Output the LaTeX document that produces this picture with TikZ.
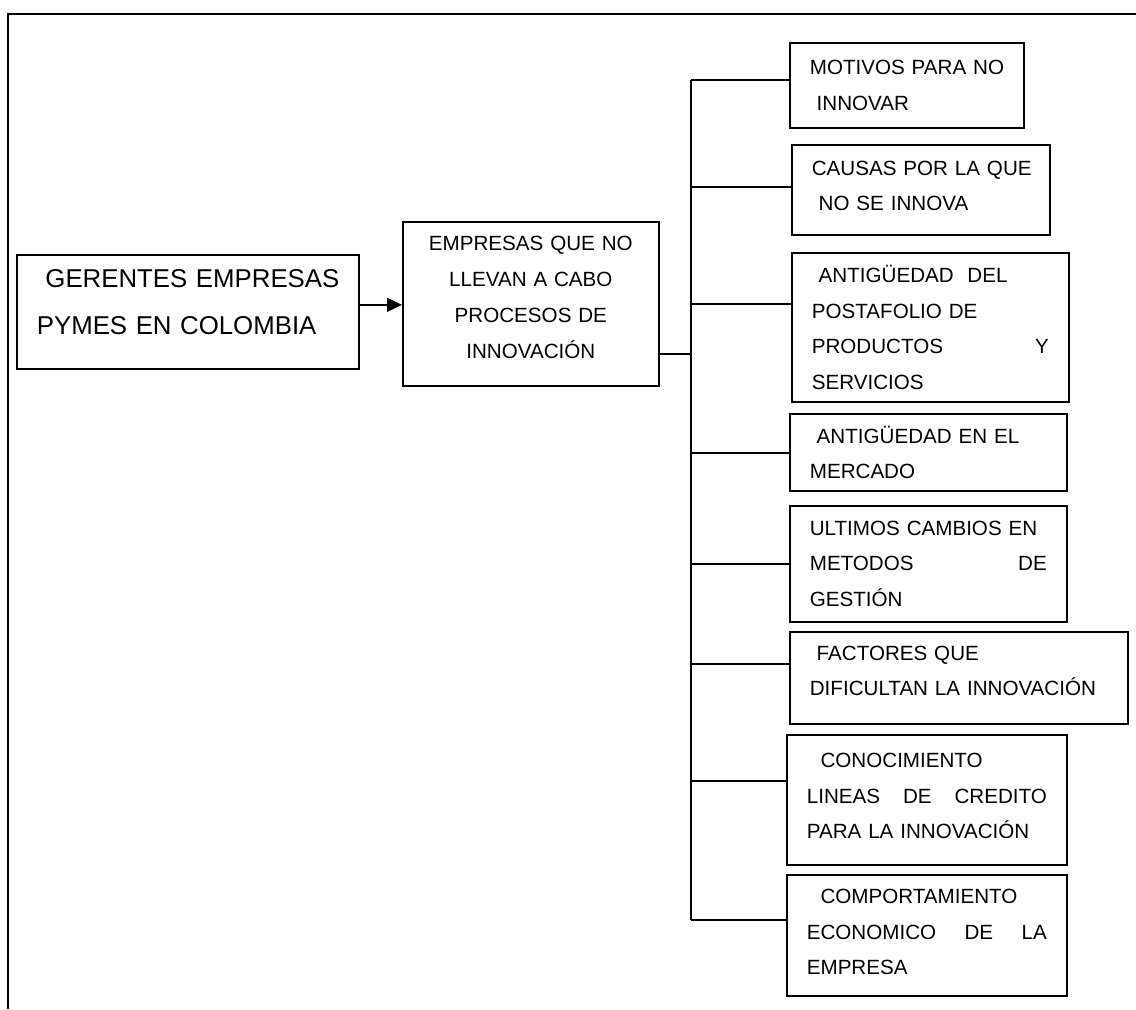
\documentclass[tikz,border=0pt]{standalone}
\usepackage{fontspec}
\setmainfont{Liberation Sans}
\usetikzlibrary{arrows.meta}
\newcommand{\dn}[1]{\rule[-#1]{0pt}{0pt}}
\newcommand{\gap}{\hspace{\fill}}

\begin{document}
\begin{tikzpicture}[
	x=0.5pt, y=-0.5pt, line width=0.85pt,
	framed/.style={draw, anchor=north west, inner xsep=10pt, inner ysep=0pt, align=left, font=\fontsize{10.3}{17.75}\selectfont},
	big/.style={framed, font=\fontsize{12.9}{23.5}\selectfont},
	centred/.style={framed, align=center, font=\fontsize{10.3}{18}\selectfont},
	tip/.style={-{Triangle[length=7.5pt,width=7pt]}}
]
	\useasboundingbox (0,0) rectangle (1136,1009);

	% outer frame
	\draw (1136,14) -- (8,14) -- (8,1009);

	\node[big, minimum width=171pt, minimum height=57pt, text width=151pt] (gerentes) at (16,254)
		{\mbox{~GERENTES EMPRESAS}\\PYMES EN COLOMBIA\dn{9.5pt}};
	\node[centred, minimum width=128pt, minimum height=82pt, text width=108pt] (empresas) at (402,221)
		{EMPRESAS QUE NO\\LLEVAN A CABO\\PROCESOS DE\\INNOVACIÓN\dn{6.5pt}};
	\draw[tip, line width=0.7pt] ([yshift=3.5pt]gerentes.east) -- ([yshift=3.5pt]gerentes.east -| empresas.west);

	\node[framed, minimum width=117pt, minimum height=42.5pt, text width=97pt] (motivos) at (789,42)
		{MOTIVOS~PARA~NO\\~INNOVAR};
	\node[framed, minimum width=129pt, minimum height=45pt, text width=109pt] (causas) at (791,144)
		{CAUSAS~POR~LA~QUE\\~NO SE INNOVA\dn{4pt}};
	\node[framed, minimum width=138.5pt, minimum height=74.5pt, text width=118.5pt] (portafolio) at (791,252)
		{~ANTIGÜEDAD~~DEL\\POSTAFOLIO DE\\PRODUCTOS\gap Y\\SERVICIOS};
	\node[framed, minimum width=138.5pt, minimum height=38.5pt, text width=118.5pt] (mercado) at (789,413)
		{~ANTIGÜEDAD EN EL\\MERCADO};
	\node[framed, minimum width=138.5pt, minimum height=58pt, text width=118.5pt] (gestion) at (789,505)
		{ULTIMOS CAMBIOS EN\\METODOS\gap DE\\GESTIÓN};
	\node[framed, minimum width=169pt, minimum height=46pt, text width=149pt] (factores) at (789,631)
		{~FACTORES QUE\\DIFICULTAN LA INNOVACIÓN\dn{7pt}};
	\node[framed, minimum width=140pt, minimum height=65pt, text width=120pt] (credito) at (786,734)
		{~~CONOCIMIENTO\\LINEAS\gap DE\gap CREDITO\\PARA~LA~INNOVACIÓN\dn{4pt}};
	\node[framed, minimum width=140pt, minimum height=60.5pt, text width=120pt] (economico) at (786,874)
		{~~COMPORTAMIENTO\\ECONOMICO\gap DE\gap LA\\EMPRESA\dn{3.5pt}};

	% trunk and branches
	\coordinate (hub) at (691,354);
	\coordinate (b1) at (691,80);
	\coordinate (b2) at (691,187);
	\coordinate (b3) at (691,304);
	\coordinate (b4) at (691,453);
	\coordinate (b5) at (691,564);
	\coordinate (b6) at (691,664);
	\coordinate (b7) at (691,781);
	\coordinate (b8) at (691,920);
	\draw (hub -| empresas.east) -- (hub);
	\draw (b1) -- (b8);
	\draw (b1) -- (b1 -| motivos.west);
	\draw (b2) -- (b2 -| causas.west);
	\draw (b3) -- (b3 -| portafolio.west);
	\draw (b4) -- (b4 -| mercado.west);
	\draw (b5) -- (b5 -| gestion.west);
	\draw (b6) -- (b6 -| factores.west);
	\draw (b7) -- (b7 -| credito.west);
	\draw (b8) -- (b8 -| economico.west);

\end{tikzpicture}
\end{document}
